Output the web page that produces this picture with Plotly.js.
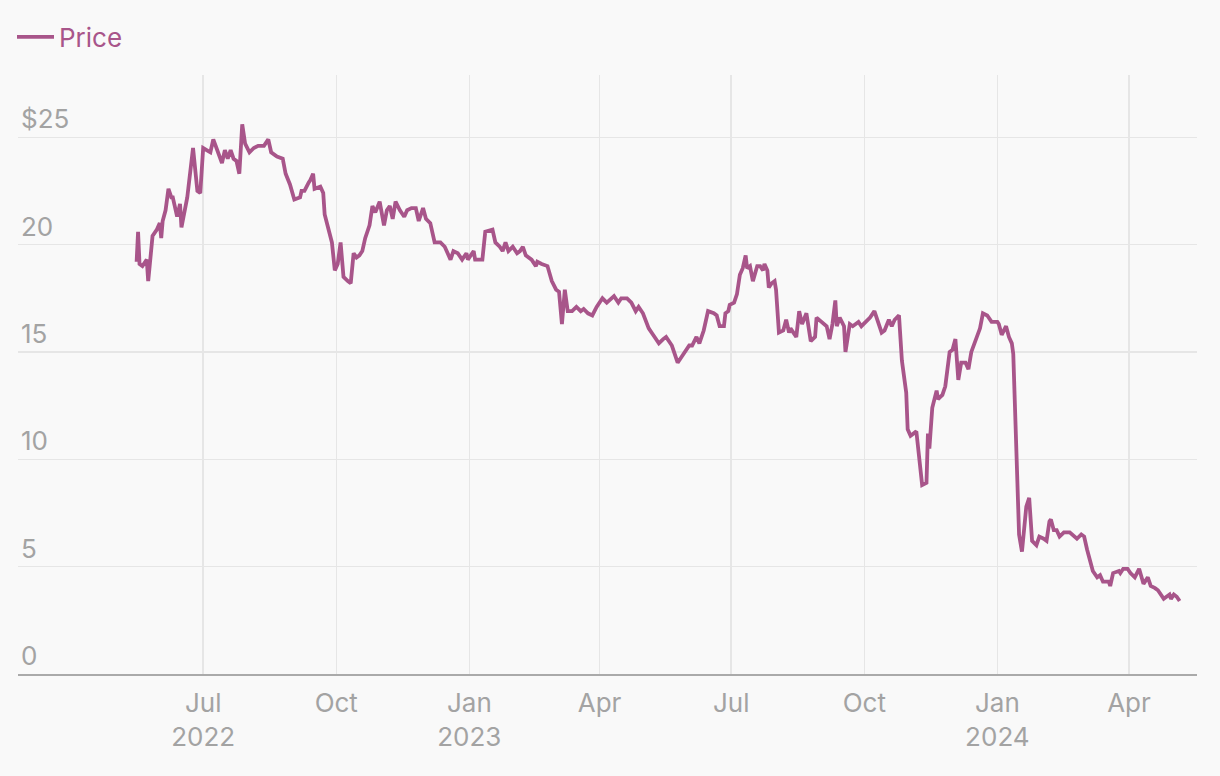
<!DOCTYPE html>
<html>
<head>
<meta charset="utf-8">
<script src="https://cdn.plot.ly/plotly-3.0.1.min.js"></script>
<style>
html,body{margin:0;padding:0;background:#f9f9f9;}
#chart{width:1220px;height:776px;}
</style>
</head>
<body>
<div id="chart"></div>
<script>
const seriesName = "Price";
const dates = [
"2022-05-16","2022-05-17","2022-05-18","2022-05-20","2022-05-23","2022-05-24","2022-05-27","2022-05-30","2022-06-01","2022-06-02",
"2022-06-03","2022-06-05","2022-06-07","2022-06-09","2022-06-10","2022-06-13","2022-06-15","2022-06-16","2022-06-20","2022-06-22",
"2022-06-24","2022-06-27","2022-06-29","2022-07-01","2022-07-05","2022-07-06","2022-07-08","2022-07-11","2022-07-14","2022-07-16",
"2022-07-18","2022-07-20","2022-07-22","2022-07-24","2022-07-26","2022-07-28","2022-07-30","2022-08-02","2022-08-05","2022-08-08",
"2022-08-12","2022-08-15","2022-08-17","2022-08-21","2022-08-25","2022-08-27","2022-08-30","2022-09-02","2022-09-06","2022-09-07",
"2022-09-09","2022-09-12","2022-09-13","2022-09-15","2022-09-16","2022-09-20","2022-09-22","2022-09-23","2022-09-26","2022-09-28",
"2022-09-30","2022-10-02","2022-10-04","2022-10-06","2022-10-09","2022-10-11","2022-10-13","2022-10-15","2022-10-17","2022-10-19",
"2022-10-21","2022-10-24","2022-10-26","2022-10-28","2022-10-31","2022-11-03","2022-11-05","2022-11-07","2022-11-09","2022-11-11",
"2022-11-14","2022-11-17","2022-11-19","2022-11-22","2022-11-25","2022-11-27","2022-11-30","2022-12-02","2022-12-05","2022-12-08",
"2022-12-12","2022-12-15","2022-12-19","2022-12-21","2022-12-24","2022-12-27","2022-12-30","2022-12-31","2023-01-04","2023-01-05",
"2023-01-10","2023-01-12","2023-01-17","2023-01-19","2023-01-22","2023-01-24","2023-01-26","2023-01-28","2023-01-31","2023-02-03",
"2023-02-05","2023-02-07","2023-02-09","2023-02-11","2023-02-13","2023-02-16","2023-02-17","2023-02-20","2023-02-24","2023-02-27",
"2023-03-02","2023-03-04","2023-03-06","2023-03-08","2023-03-10","2023-03-13","2023-03-16","2023-03-19","2023-03-21","2023-03-24",
"2023-03-27","2023-03-30","2023-04-03","2023-04-06","2023-04-11","2023-04-14","2023-04-16","2023-04-20","2023-04-23","2023-04-26",
"2023-04-28","2023-05-01","2023-05-04","2023-05-05","2023-05-08","2023-05-12","2023-05-15","2023-05-17","2023-05-21","2023-05-22",
"2023-05-25","2023-05-28","2023-05-30","2023-06-02","2023-06-04","2023-06-07","2023-06-09","2023-06-12","2023-06-15","2023-06-19",
"2023-06-21","2023-06-23","2023-06-26","2023-06-27","2023-06-29","2023-06-30","2023-07-03","2023-07-05","2023-07-07","2023-07-09",
"2023-07-11","2023-07-12","2023-07-14","2023-07-16","2023-07-19","2023-07-21","2023-07-23","2023-07-24","2023-07-26","2023-07-27",
"2023-07-29","2023-07-31","2023-08-01","2023-08-03","2023-08-06","2023-08-08","2023-08-10","2023-08-11","2023-08-15","2023-08-17",
"2023-08-19","2023-08-22","2023-08-25","2023-08-28","2023-08-29","2023-09-02","2023-09-05","2023-09-07","2023-09-09","2023-09-11",
"2023-09-12","2023-09-14","2023-09-17","2023-09-18","2023-09-21","2023-09-23","2023-09-27","2023-09-29","2023-10-02","2023-10-05",
"2023-10-08","2023-10-11","2023-10-13","2023-10-15","2023-10-18","2023-10-20","2023-10-22","2023-10-25","2023-10-27","2023-10-30",
"2023-10-31","2023-11-02","2023-11-06","2023-11-10","2023-11-13","2023-11-14","2023-11-15","2023-11-17","2023-11-20","2023-11-21",
"2023-11-24","2023-11-26","2023-11-29","2023-12-01","2023-12-03","2023-12-05","2023-12-07","2023-12-10","2023-12-12","2023-12-14",
"2023-12-17","2023-12-19","2023-12-20","2023-12-22","2023-12-25","2023-12-28","2024-01-01","2024-01-02","2024-01-04","2024-01-07",
"2024-01-09","2024-01-11","2024-01-12","2024-01-13","2024-01-15","2024-01-16","2024-01-18","2024-01-20","2024-01-21","2024-01-23",
"2024-01-24","2024-01-25","2024-01-28","2024-01-30","2024-02-02","2024-02-04","2024-02-06","2024-02-07","2024-02-09","2024-02-11",
"2024-02-13","2024-02-16","2024-02-20","2024-02-22","2024-02-25","2024-02-28","2024-03-01","2024-03-03","2024-03-05","2024-03-07",
"2024-03-10","2024-03-12","2024-03-14","2024-03-18","2024-03-19","2024-03-21","2024-03-25","2024-03-26","2024-03-28","2024-03-31",
"2024-04-02","2024-04-05","2024-04-08","2024-04-11","2024-04-14","2024-04-16","2024-04-19","2024-04-21","2024-04-25","2024-04-27",
"2024-04-29","2024-04-30","2024-05-02","2024-05-04","2024-05-06"
];
const prices = [
19.2,20.6,19.1,19.0,19.3,18.3,20.4,20.7,21.0,20.3,
21.1,21.6,22.6,22.2,22.2,21.3,21.9,20.8,22.2,23.3,
24.5,22.5,22.4,24.5,24.3,24.3,24.9,24.4,23.8,24.4,
24.0,24.4,24.0,23.9,23.3,25.6,24.7,24.3,24.5,24.6,
24.6,24.9,24.3,24.1,24.0,23.3,22.8,22.1,22.2,22.5,
22.5,22.9,23.0,23.3,22.6,22.7,22.4,21.4,20.7,20.1,
18.8,19.1,20.1,18.5,18.3,18.2,19.6,19.4,19.5,19.7,
20.3,20.9,21.8,21.5,22.0,20.9,21.6,21.8,21.2,22.0,
21.6,21.3,21.6,21.7,21.7,21.1,21.7,21.2,21.0,20.1,
20.1,19.9,19.3,19.7,19.6,19.3,19.6,19.3,19.7,19.3,
19.3,20.6,20.7,20.1,19.9,19.7,20.1,19.7,19.9,19.6,
19.7,19.9,19.5,19.4,19.3,19.0,19.2,19.1,19.0,18.3,
17.9,17.8,16.3,17.9,16.9,16.9,17.1,16.9,17.0,16.8,
16.7,17.1,17.5,17.3,17.6,17.3,17.5,17.5,17.3,16.9,
17.1,16.8,16.3,16.1,15.8,15.4,15.6,15.7,15.3,15.1,
14.5,14.8,15.0,15.3,15.3,15.7,15.4,16.0,16.9,16.8,
16.7,16.2,16.2,16.8,16.9,17.2,17.3,17.7,18.6,18.9,
19.5,18.9,19.0,18.3,19.0,19.0,18.8,19.1,18.8,18.0,
18.2,18.3,17.9,15.9,16.0,16.5,15.9,16.1,15.7,16.9,
16.3,16.8,15.5,15.7,16.6,16.4,16.2,15.6,16.3,17.4,
16.2,16.6,16.2,15.0,16.3,16.2,16.4,16.2,16.4,16.6,
16.9,16.3,15.9,16.0,16.5,16.2,16.5,16.7,14.6,13.1,
11.4,11.1,11.3,8.8,8.9,11.2,10.5,12.4,13.2,12.8,
13.0,13.4,15.0,15.1,15.6,13.7,14.5,14.5,14.2,15.0,
15.6,16.0,16.1,16.8,16.7,16.4,16.4,16.3,15.8,16.2,
15.7,15.4,14.9,12.8,9.3,6.5,5.7,6.9,7.8,8.2,
7.1,6.2,6.0,6.4,6.3,6.2,7.1,7.2,6.7,6.7,
6.4,6.6,6.6,6.5,6.3,6.5,6.4,5.8,5.2,4.8,
4.5,4.6,4.3,4.3,4.1,4.7,4.8,4.7,4.9,4.9,
4.7,4.5,4.9,4.2,4.5,4.1,4.0,3.9,3.5,3.6,
3.7,3.5,3.7,3.6,3.4
];
const xTickVals = ["2022-07-01","2022-10-01","2023-01-01","2023-04-01","2023-07-01","2023-10-01","2024-01-01","2024-04-01"];
const xTickText = ["Jul<br>2022","Oct","Jan<br>2023","Apr","Jul","Oct","Jan<br>2024","Apr"];
const yTickVals = [0,5,10,15,20,25];
const yTickText = ["0","5","10","15","20","$25"];

const lineColor = "#a8558a";
const gray = "#a3a3a3";
const fontFam = "Inter, 'Liberation Sans', Arial, sans-serif";

const trace = {
  x: dates, y: prices, type: "scatter", mode: "lines", name: seriesName,
  line: {color: lineColor, width: 3.8}
};
const layout = {
  width: 1220, height: 776,
  paper_bgcolor: "#f9f9f9", plot_bgcolor: "#f9f9f9",
  margin: {l: 18, r: 23, t: 75, b: 102},
  font: {family: fontFam, color: gray, size: 26},
  showlegend: true,
  legend: {xref: "container", yref: "container", x: 12/1220, y: 1 - 37/776,
           xanchor: "left", yanchor: "middle", orientation: "h", itemwidth: 37,
           font: {size: 26, color: lineColor, family: fontFam}, bgcolor: "rgba(0,0,0,0)"},
  xaxis: {
    type: "date", range: ["2022-02-23", "2024-05-18"], automargin: false,
    tickmode: "array", tickvals: xTickVals, ticktext: xTickText,
    showgrid: true, gridcolor: "#e6e6e6", gridwidth: 1.5,
    showline: true, linecolor: "#aaaaaa", linewidth: 1.5,
    ticks: "", ticklabelstandoff: 5, zeroline: false,
    tickfont: {size: 26, color: gray}
  },
  yaxis: {
    range: [0, 27.9], automargin: false, tickmode: "array", tickvals: yTickVals, ticktext: yTickText,
    showgrid: true, gridcolor: "#e6e6e6", gridwidth: 1.5, zeroline: false,
    showline: false, ticks: "", ticklabelposition: "inside top",
    tickfont: {size: 26, color: gray}
  }
};
Plotly.newPlot("chart", [trace], layout, {displayModeBar: false, staticPlot: true});
</script>
</body>
</html>
